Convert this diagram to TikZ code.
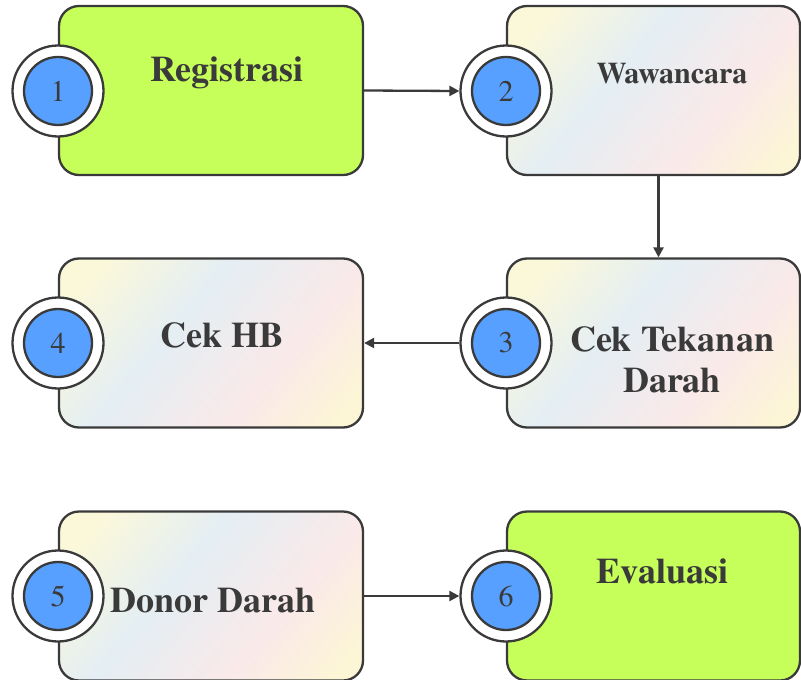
\documentclass[tikz,border=0pt]{standalone}
\usepackage{fontspec}
\setmainfont{texgyretermes}[Extension=.otf,UprightFont=*-regular,BoldFont=*-bold]
\usetikzlibrary{arrows.meta}

\definecolor{ink}{HTML}{3A3A3A}
\definecolor{stepgreen}{HTML}{C6FF5A}
\definecolor{dotblue}{HTML}{57A0FF}
\definecolor{shadeyel}{HTML}{FBF8DA}
\definecolor{shadeblu}{HTML}{E4EEF3}
\definecolor{shadepnk}{HTML}{FAE9E9}
\definecolor{shadeend}{HTML}{FCF5D6}
\pgfdeclarehorizontalshading{boxshade}{100bp}{color(0bp)=(shadeyel); color(22bp)=(shadeyel); color(42bp)=(shadeblu); color(64bp)=(shadepnk); color(80bp)=(shadeend); color(100bp)=(shadeend)}

\begin{document}
\begin{tikzpicture}[x=1pt,y=-1pt,line width=2.3pt,>={Triangle[length=10pt,width=10pt]}]
    \tikzstyle{every node}=[text=ink]
    \tikzstyle{stepbox}=[draw=ink,rounded corners=20pt,minimum width=304pt,
        minimum height=169pt,inner sep=0pt]
    \tikzstyle{plain}=[stepbox,shading=boxshade,shading angle=-40]
    \tikzstyle{green}=[stepbox,fill=stepgreen]
    \tikzstyle{ring}=[circle,draw=ink,fill=white,minimum size=91pt,inner sep=0pt]
    \tikzstyle{num}=[circle,draw=ink,fill=dotblue,minimum size=68pt,inner sep=0pt,
        font=\fontsize{30}{30}\selectfont]
    \tikzstyle{title}=[anchor=base,font=\fontsize{36}{41}\selectfont\bfseries]

    \useasboundingbox (0,0) rectangle (801,680);

    % boxes
    \node[green] (reg) at (211,90.5) {};
    \node[plain,minimum width=293pt] (waw) at (653.5,90.5) {};
    \node[plain,minimum width=293pt] (tek) at (653.5,343) {};
    \node[plain] (hb) at (211,343) {};
    \node[plain] (don) at (211,596) {};
    \node[green,minimum width=293pt] (eva) at (653.5,596) {};

    % labels
    \node[title] (treg) at (227,81) {Registrasi};
    \node[title,font=\fontsize{30}{34}\selectfont\bfseries] (twaw) at (672,83) {Wawancara};
    \node[title,anchor=center,align=center] (ttek) at (672,360) {Cek Tekanan\\Darah};
    \node[title] (thb) at (222.5,347) {Cek HB};
    \node[title] (tdon) at (213,612) {Donor Darah};
    \node[title] (teva) at (662.5,583) {Evaluasi};

    % numbers
    \node[ring] (c1) at (58,91) {};
    \node[num] (n1) at (c1) {1};
    \node[ring] (c2) at (506,91) {};
    \node[num] (n2) at (c2) {2};
    \node[ring] (c3) at (506,343) {};
    \node[num] (n3) at (c3) {3};
    \node[ring] (c4) at (58,343) {};
    \node[num] (n4) at (c4) {4};
    \node[ring] (c5) at (58,596) {};
    \node[num] (n5) at (c5) {5};
    \node[ring] (c6) at (506,596) {};
    \node[num] (n6) at (c6) {6};

    % flow
    \draw[->,draw=ink,fill=ink] (reg.east) -- (c2.west);
    \draw[->,draw=ink,fill=ink] ([xshift=5pt]waw.south) -- ([xshift=5pt]tek.north);
    \draw[->,draw=ink,fill=ink] (c3.west) -- (hb.east);
    \draw[->,draw=ink,fill=ink] (don.east) -- (c6.west);
\end{tikzpicture}
\end{document}
